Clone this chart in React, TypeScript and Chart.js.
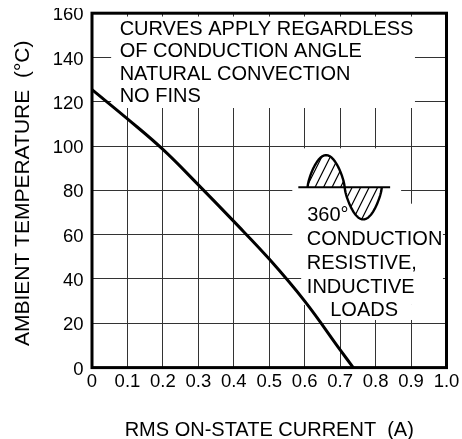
import React, { useEffect, useRef } from 'react';
import { Chart, registerables } from 'chart.js';

Chart.register(...registerables);

// ---- data ----
const currentA = [0, 0.1, 0.2, 0.3, 0.4, 0.5, 0.6, 0.7, 0.737];
const ambientC = [125.5, 112.3, 98.5, 82.5, 66, 49, 30, 8, 0];

const xTickValues = [0, 0.1, 0.2, 0.3, 0.4, 0.5, 0.6, 0.7, 0.8, 0.9, 1.0];
const xTickLabels = ['0', '0.1', '0.2', '0.3', '0.4', '0.5', '0.6', '0.7', '0.8', '0.9', '1.0'];
const yTickValues = [0, 20, 40, 60, 80, 100, 120, 140, 160];
const yTickLabels = ['0', '20', '40', '60', '80', '100', '120', '140', '160'];

const xTitle = 'RMS ON-STATE CURRENT  (A)';
const yTitle = 'AMBIENT TEMPERATURE  (°C) ';

const noteTopLines = ['CURVES APPLY REGARDLESS', 'OF CONDUCTION ANGLE', 'NATURAL CONVECTION', 'NO FINS'];
const noteLowLines = ['360°', 'CONDUCTION', 'RESISTIVE,', 'INDUCTIVE', 'LOADS'];

// annotation placement, in data units (A, °C)
const noteTopX = 0.078;
const noteTopY = [152.5, 142.5, 132.5, 122.5];
const noteLowX = [0.607, 0.606, 0.606, 0.606, 0.672];
const noteLowY = [68.5, 57.7, 47, 36.3, 25.6];

// white backgrounds behind the notes: [x0, x1, yTop, yBottom]
const maskBoxes = [
  [0.054, 0.911, 158.5, 117.2],
  [0.565, 0.872, 99, 55],
  [0.59, 0.99, 74, 28.3],
  [0.644, 0.99, 28.3, 21.5],
];

// waveform icon: [xStart, xEnd], axis [xStart, xEnd], centre, amplitude
const waveX = [0.608, 0.8175];
const waveAxisX = [0.582, 0.841];
const waveCenter = 81.4;
const waveAmp = 14.5;

const FONT = "'Liberation Sans', Arial, Helvetica, sans-serif";

const notesPlugin = {
  id: 'notes',
  beforeDatasetsDraw(chart: any) {
    const { ctx, scales } = chart;
    const xs = scales.x;
    const ys = scales.y;
    const X = (v: number) => xs.getPixelForValue(v);
    const Y = (v: number) => ys.getPixelForValue(v);
    ctx.save();
    // masks
    ctx.fillStyle = '#ffffff';
    maskBoxes.forEach(([x0, x1, yt, yb]) => {
      ctx.fillRect(X(x0), Y(yt), X(x1) - X(x0), Y(yb) - Y(yt));
    });
    // text
    ctx.fillStyle = '#000';
    ctx.font = `20px ${FONT}`;
    ctx.textAlign = 'left';
    ctx.textBaseline = 'middle';
    noteTopLines.forEach((t, i) => ctx.fillText(t, X(noteTopX), Y(noteTopY[i])));
    noteLowLines.forEach((t, i) => ctx.fillText(t, X(noteLowX[i]), Y(noteLowY[i])));

    // waveform icon
    const axisY = Y(waveCenter);
    const shape = (t: number) => {
      const s = Math.sin(2 * Math.PI * t);
      return Math.sign(s) * Math.pow(Math.abs(s), 0.7);
    };
    const px = (t: number) => X(waveX[0] + (waveX[1] - waveX[0]) * t);
    const py = (t: number) => Y(waveCenter + waveAmp * shape(t));
    const N = 80;
    const lobe = (t0: number, t1: number) => {
      ctx.beginPath();
      ctx.moveTo(px(t0), axisY);
      for (let i = 0; i <= N; i++) {
        const t = t0 + ((t1 - t0) * i) / N;
        ctx.lineTo(px(t), py(t));
      }
      ctx.closePath();
    };
    [[0, 0.5], [0.5, 1]].forEach(([a, b]) => {
      ctx.save();
      lobe(a, b);
      ctx.clip();
      ctx.beginPath();
      ctx.lineWidth = 1.2;
      ctx.strokeStyle = '#000';
      const left = px(a) - 60;
      const right = px(b) + 60;
      for (let x = left; x < right; x += 8.5) {
        ctx.moveTo(x, axisY + 50);
        ctx.lineTo(x + 50, axisY - 50);
      }
      ctx.stroke();
      ctx.restore();
    });
    // axis line
    ctx.beginPath();
    ctx.lineWidth = 2;
    ctx.strokeStyle = '#000';
    ctx.moveTo(X(waveAxisX[0]), axisY);
    ctx.lineTo(X(waveAxisX[1]), axisY);
    ctx.stroke();
    // wave outline
    ctx.beginPath();
    for (let i = 0; i <= 2 * N; i++) {
      const t = i / (2 * N);
      if (i === 0) ctx.moveTo(px(t), py(t));
      else ctx.lineTo(px(t), py(t));
    }
    ctx.lineWidth = 2.4;
    ctx.lineJoin = 'round';
    ctx.stroke();
    ctx.restore();
  },
  afterDraw(chart: any) {
    const { ctx, chartArea } = chart;
    ctx.save();
    ctx.strokeStyle = '#000';
    ctx.lineWidth = 3;
    ctx.strokeRect(chartArea.left, chartArea.top, chartArea.right - chartArea.left, chartArea.bottom - chartArea.top);
    ctx.restore();
  },
};

export default function App() {
  const canvasRef = useRef<HTMLCanvasElement | null>(null);

  useEffect(() => {
    const canvas = canvasRef.current;
    if (!canvas) return;
    const chart = new Chart(canvas, {
      type: 'line',
      data: {
        datasets: [
          {
            data: currentA.map((x, i) => ({ x, y: ambientC[i] })),
            borderColor: '#000',
            borderWidth: 3,
            pointRadius: 0,
            fill: false,
            tension: 0.4,
          },
        ],
      },
      options: {
        responsive: false,
        animation: false,
        devicePixelRatio: 1,
        layout: { padding: { left: 0, top: 5.2, right: 15.5, bottom: 0 } },
        plugins: { legend: { display: false }, tooltip: { enabled: false } },
        scales: {
          x: {
            type: 'linear',
            min: 0,
            max: 1,
            afterBuildTicks(s: any) {
              s.ticks = xTickValues.map((v) => ({ value: v }));
            },
            afterFit(s: any) {
              s.height = 71.4;
              s.paddingLeft = 0;
              s.paddingRight = 0;
            },
            ticks: {
              callback: (_v: any, i: number) => xTickLabels[i],
              font: { family: FONT, size: 18.5 },
              color: '#000',
              padding: 3,
              maxRotation: 0,
              autoSkip: false,
            },
            grid: { color: '#333', lineWidth: 1, drawTicks: false },
            border: { display: false },
            title: {
              display: true,
              text: xTitle,
              color: '#000',
              font: { family: FONT, size: 20, lineHeight: 1 },
              padding: { top: 0, bottom: -1 },
            },
          },
          y: {
            type: 'linear',
            min: 0,
            max: 160,
            afterBuildTicks(s: any) {
              s.ticks = yTickValues.map((v) => ({ value: v }));
            },
            afterFit(s: any) {
              s.width = 84;
              s.paddingTop = 0;
              s.paddingBottom = 0;
            },
            ticks: {
              callback: (_v: any, i: number) => yTickLabels[i],
              font: { family: FONT, size: 18.5 },
              color: '#000',
              padding: 8.5,
              labelOffset: 2,
              autoSkip: false,
            },
            grid: { color: '#333', lineWidth: 1, drawTicks: false },
            border: { display: false },
            title: {
              display: true,
              text: yTitle,
              color: '#000',
              font: { family: FONT, size: 21, lineHeight: 1 },
              padding: { top: 5, bottom: 0 },
            },
          },
        },
      },
      plugins: [notesPlugin],
    } as any);
    return () => chart.destroy();
  }, []);

  return (
    <div style={{ width: 446, height: 431 }}>
      <canvas
        ref={canvasRef}
        width={454}
        height={431}
        style={{ position: 'fixed', left: 8, top: 8, display: 'block', width: 454, height: 431 }}
      />
    </div>
  );
}
